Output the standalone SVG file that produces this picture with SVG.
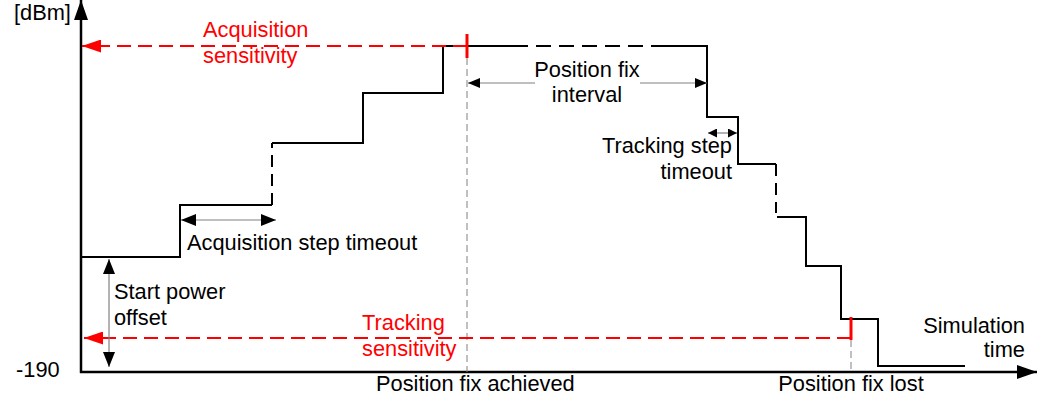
<svg xmlns="http://www.w3.org/2000/svg" width="1037" height="394" viewBox="0 0 1037 394">
<style>
text{font-family:"Liberation Sans",Arial,sans-serif;font-size:21.8px;fill:#000}
.red{fill:#ff0000}
.axis{stroke:#000;stroke-width:2.5;fill:none}
.step{stroke:#000;stroke-width:2;fill:none}
.stepd{stroke:#000;stroke-width:2;fill:none;stroke-dasharray:12 7}
.sens{stroke:#ff0000;stroke-width:2;fill:none;stroke-dasharray:14 7}
.tick{stroke:#ff0000;stroke-width:3}
.guide{stroke:#808080;stroke-width:1;stroke-dasharray:7 4}
.dim{stroke:#808080;stroke-width:1.2;fill:none}
</style>
<defs>
<marker id="ah" viewBox="0 0 12 10" refX="12" refY="5" markerWidth="12" markerHeight="10" markerUnits="userSpaceOnUse" orient="auto-start-reverse"><path d="M0,0 L12,5 L0,10 Z" fill="#000"/></marker>
<marker id="ahs" viewBox="0 0 10 10" refX="10" refY="5" markerWidth="10" markerHeight="9" markerUnits="userSpaceOnUse" orient="auto-start-reverse"><path d="M0,0 L10,5 L0,10 Z" fill="#000"/></marker>
<marker id="ahl" viewBox="0 0 15 12" refX="15" refY="6" markerWidth="15" markerHeight="12" markerUnits="userSpaceOnUse" orient="auto-start-reverse"><path d="M0,0 L15,6 L0,12 Z" fill="#000"/></marker>
<marker id="ahr" viewBox="0 0 19 13" refX="19" refY="6.5" markerWidth="19" markerHeight="13" markerUnits="userSpaceOnUse" orient="auto"><path d="M0,0 L19,6.5 L0,13 Z" fill="#ff0000"/></marker>
<marker id="ahx" viewBox="0 0 20 14" refX="20" refY="7" markerWidth="20" markerHeight="14" markerUnits="userSpaceOnUse" orient="auto"><path d="M0,0 L20,7 L0,14 Z" fill="#000"/></marker>
</defs>

<g id="axes">
<line class="axis" x1="81" y1="373" x2="81" y2="0" marker-end="url(#ahx)"/>
<line class="axis" x1="80" y1="372" x2="1037" y2="372" marker-end="url(#ahx)"/>
<text x="14" y="20">[dBm]</text>
<text x="16" y="377">-190</text>
</g>

<g id="guides">
<line class="guide" x1="467" y1="58" x2="467" y2="372"/>
<line class="guide" x1="851" y1="340" x2="851" y2="372"/>
</g>

<g id="power-curve">
<polyline class="step" points="81,257 180,257 180,205 272,205"/>
<line class="stepd" x1="272" y1="205" x2="272" y2="143"/>
<polyline class="step" points="272,143 363,143 363,93 443,93 443,46 513,46"/>
<line class="stepd" x1="513" y1="46" x2="657" y2="46" style="stroke-dasharray:15 8"/>
<polyline class="step" points="657,46 707,46 707,117 738,117 738,164 776,164"/>
<line class="stepd" x1="776" y1="164" x2="776" y2="213"/>
<polyline class="step" points="777,217 806,217 806,266 841,266 841,319 878,319 878,366 965,366"/>
</g>

<g id="acquisition-sensitivity">
<line class="sens" x1="467" y1="46" x2="82" y2="46" marker-end="url(#ahr)"/>
<line class="tick" x1="467" y1="34" x2="467" y2="58"/>
<text class="red" x="203" y="37">Acquisition</text>
<text class="red" x="203" y="63">sensitivity</text>
</g>

<g id="tracking-sensitivity">
<line class="sens" x1="851" y1="338" x2="84" y2="338" marker-end="url(#ahr)"/>
<line class="tick" x1="851" y1="317" x2="851" y2="340"/>
<text class="red" x="362" y="330">Tracking</text>
<text class="red" x="362" y="356">sensitivity</text>
</g>

<g id="connectors">
<line class="dim" x1="468" y1="83" x2="535" y2="83" marker-start="url(#ah)"/>
<line class="dim" x1="640" y1="83" x2="707" y2="83" marker-end="url(#ah)"/>
<line class="dim" x1="708" y1="133" x2="737" y2="133" marker-start="url(#ahs)" marker-end="url(#ahs)"/>
<line class="dim" x1="181" y1="220" x2="276" y2="220" marker-start="url(#ahl)" marker-end="url(#ahl)"/>
<line class="dim" x1="109" y1="259" x2="109" y2="367" marker-start="url(#ahl)" marker-end="url(#ahl)"/>
</g>

<g id="labels">
<text x="587" y="77" text-anchor="middle">Position fix</text>
<text x="587" y="102" text-anchor="middle">interval</text>
<text x="732" y="153" text-anchor="end">Tracking step</text>
<text x="732" y="179" text-anchor="end">timeout</text>
<text x="187" y="250">Acquisition step timeout</text>
<text x="114" y="299">Start power</text>
<text x="114" y="325">offset</text>
<text x="1025" y="333" text-anchor="end">Simulation</text>
<text x="1025" y="357" text-anchor="end">time</text>
<text x="376" y="391">Position fix achieved</text>
<text x="851" y="391" text-anchor="middle">Position fix lost</text>
</g>
</svg>
